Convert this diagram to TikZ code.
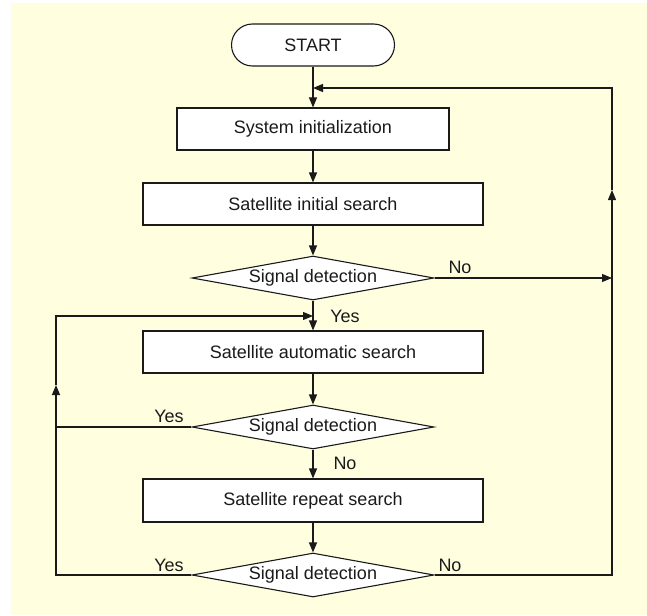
\documentclass[tikz,border=0pt]{standalone}
\usepackage{fontspec}
\setmainfont{Liberation Sans}
\usetikzlibrary{shapes.geometric,arrows.meta}
\definecolor{bgyellow}{HTML}{FFFFE0}
\definecolor{ink}{HTML}{1A1A1A}
\begin{document}
\begin{tikzpicture}[x=1pt,y=-1pt,
  font=\fontsize{18}{21}\selectfont,
  line width=1.1pt, draw=ink, text=ink,
  term/.style={draw, fill=white, rounded corners=21pt, minimum width=163pt, minimum height=42pt, inner sep=0},
  proc/.style={draw, fill=white, minimum height=42pt, inner sep=0},
  dec/.style={diamond, draw, fill=white, aspect=5.5, minimum width=242pt, minimum height=44pt, inner sep=0},
  arr/.style={-{Triangle[length=10pt,width=8pt]}},
  lbl/.style={inner sep=0}]
\useasboundingbox (0,0) rectangle (647,615);
\fill[bgyellow] (11,3) rectangle (647,615);
% nodes
\node[term] (start) at (313,45) {START};
\node[proc, minimum width=272pt] (b1) at (313,129) {System initialization};
\node[proc, minimum width=340pt] (b2) at (313,204) {Satellite initial search};
\node[dec] (d1) at (313,278) {Signal detection};
\node[proc, minimum width=340pt] (b3) at (313,352) {Satellite automatic search};
\node[dec] (d2) at (313,427) {Signal detection};
\node[proc, minimum width=340pt, minimum height=43pt] (b4) at (313,500.5) {Satellite repeat search};
\node[dec] (d3) at (313,575) {Signal detection};
% labels
\node[lbl] (n1) at (460,267) {No};
\node[lbl] (y1) at (345,316) {Yes};
\node[lbl] (y2) at (169,416) {Yes};
\node[lbl] (n2) at (345,463) {No};
\node[lbl] (y3) at (169,565) {Yes};
\node[lbl] (n3) at (450,565) {No};
% helper coordinates
\coordinate (rt) at (612,88);
\coordinate (rm) at (612,190);
\coordinate (rn) at (612,278);
\coordinate (rb) at (612,575);
\coordinate (jt) at (313,88);
\coordinate (lt) at (56,316);
\coordinate (lm) at (56,385);
\coordinate (l2) at (56,427);
\coordinate (lb) at (56,575);
\coordinate (jl) at (313,316);
% main flow
\draw[arr] (start.south) -- (b1.north);
\draw[arr] (b1.south) -- (b2.north);
\draw[arr] (b2.south) -- (d1.north);
\draw[arr] (d1.south) -- (b3.north);
\draw[arr] (b3.south) -- (d2.north);
\draw[arr] (d2.south) -- (b4.north);
\draw[arr] (b4.south) -- (d3.north);
% right loop
\draw[arr] (d1.east) -- (rn);
\draw[arr] (d3.east) -- (rb) -- (rm);
\draw[arr] (rm) -- (rt) -- (jt);
% left loop
\draw (d2.west) -- (l2);
\draw[arr] (d3.west) -- (lb) -- (lm);
\draw[arr] (lm) -- (lt) -- (jl);
\end{tikzpicture}
\end{document}
